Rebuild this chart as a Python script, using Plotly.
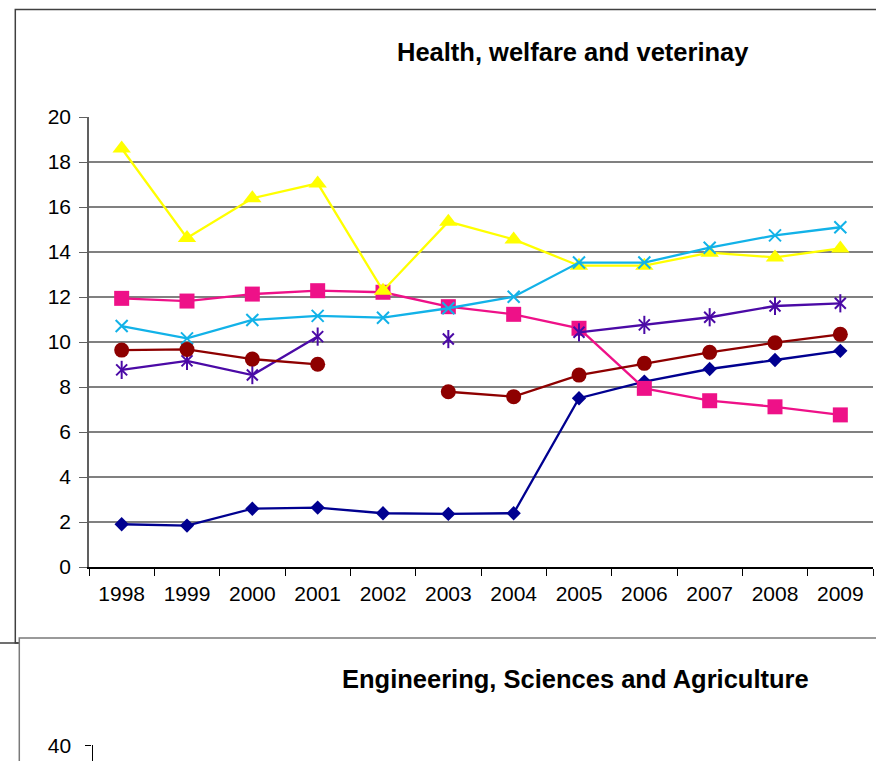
import plotly.graph_objects as go

W, H = 876, 761

years = ['1998', '1999', '2000', '2001', '2002', '2003', '2004', '2005', '2006', '2007', '2008', '2009']
navy_diamond = [1.90, 1.84, 2.59, 2.64, 2.39, 2.36, 2.39, 7.50, 8.24, 8.80, 9.20, 9.61]
pink_square = [11.94, 11.82, 12.13, 12.28, 12.21, 11.57, 11.23, 10.61, 7.94, 7.39, 7.12, 6.76]
yellow_triangle = [18.60, 14.62, 16.39, 17.05, 12.28, 15.35, 14.56, 13.39, 13.39, 13.97, 13.76, 14.16]
cyan_cross = [10.71, 10.16, 10.98, 11.16, 11.08, 11.50, 12.01, 13.53, 13.53, 14.19, 14.74, 15.10]
purple_star = [8.76, 9.16, 8.53, 10.24, None, 10.13, None, 10.43, 10.76, 11.10, 11.60, 11.72]
darkred_circle = [9.64, 9.67, 9.24, 9.01, None, 7.79, 7.57, 8.53, 9.05, 9.54, 9.97, 10.34]

y_ticks = list(range(0, 21, 2))
title_top = "Health, welfare and veterinay"
title_bottom = "Engineering, Sciences and Agriculture"
bottom_ticks = [40]

FONT = "Liberation Sans, Arial, sans-serif"
NAVY = "#000090"
PINK = "#EE1188"
YELLOW = "#FFFF00"
CYAN = "#12B2E8"
PURPLE = "#4B0AA6"
DARKRED = "#8E0000"


def px(x):
    return x / W


def py(y):
    return (H - y) / H


fig = go.Figure()
lw = 2.3

fig.add_trace(go.Scatter(x=years, y=navy_diamond, mode="lines+markers",
                         line=dict(color=NAVY, width=lw),
                         marker=dict(symbol="diamond", size=11, color=NAVY)))
fig.add_trace(go.Scatter(x=years, y=pink_square, mode="lines+markers",
                         line=dict(color=PINK, width=lw),
                         marker=dict(symbol="square", size=15, color=PINK)))
fig.add_trace(go.Scatter(x=years, y=yellow_triangle, mode="lines+markers",
                         line=dict(color=YELLOW, width=lw),
                         marker=dict(symbol="triangle-up", size=16, color=YELLOW)))
fig.add_trace(go.Scatter(x=years, y=cyan_cross, mode="lines+markers",
                         line=dict(color=CYAN, width=lw),
                         marker=dict(symbol="x-thin", size=12, color=CYAN,
                                     line=dict(color=CYAN, width=2))))
fig.add_trace(go.Scatter(x=years, y=purple_star, mode="lines+markers",
                         line=dict(color=PURPLE, width=lw),
                         marker=dict(symbol="x-thin", size=11, color=PURPLE,
                                     line=dict(color=PURPLE, width=2))))
fig.add_trace(go.Scatter(x=years, y=purple_star, mode="markers",
                         marker=dict(symbol="line-ns", size=13, color=PURPLE,
                                     line=dict(color=PURPLE, width=2))))
fig.add_trace(go.Scatter(x=years, y=darkred_circle, mode="lines+markers",
                         line=dict(color=DARKRED, width=lw),
                         marker=dict(symbol="circle", size=15, color=DARKRED)))
# second (cut-off) chart: only its axis is visible, no data shown
fig.add_trace(go.Scatter(x=[], y=[], mode="lines", xaxis="x2", yaxis="y2",
                         hoverinfo="skip"))

tickfont = dict(family=FONT, size=21, color="#000000")

fig.update_layout(
    width=W, height=H, autosize=False,
    margin=dict(l=0, r=0, t=0, b=0, pad=0, autoexpand=False),
    paper_bgcolor="white", plot_bgcolor="white",
    showlegend=False,
    xaxis=dict(domain=[px(89), px(873)], type="category", range=[-0.5, 11.5],
               showgrid=False, showline=True, linecolor="#000000", linewidth=1.5,
               ticks="outside", tickson="boundaries", ticklen=7, tickcolor="#000000",
               tickwidth=1.3, tickfont=tickfont, ticklabelstandoff=7,
               anchor="y", fixedrange=True, automargin=False),
    yaxis=dict(domain=[py(567), py(117)], range=[0, 20], tickvals=y_ticks,
               showgrid=True, gridcolor="#808080", gridwidth=1.5, zeroline=False,
               showline=True, linecolor="#606060", linewidth=1.5,
               ticks="outside", ticklen=8, tickcolor="#606060", tickwidth=1.3,
               tickfont=tickfont, ticklabelstandoff=4, anchor="x", automargin=False),
    xaxis2=dict(domain=[px(92.5), px(873)], range=[0, 1], anchor="y2",
                showgrid=False, zeroline=False, showline=False, showticklabels=False,
                ticks="", automargin=False),
    yaxis2=dict(domain=[0, py(745)], range=[38.6, 40.02], tickvals=bottom_ticks,
                showgrid=False, zeroline=False, showline=True, linecolor="#000000",
                linewidth=1.3, ticks="outside", ticklen=6, tickcolor="#000000",
                tickfont=tickfont, ticklabelstandoff=10, anchor="x2", automargin=False),
    shapes=[
        dict(type="rect", xref="paper", yref="paper", x0=px(15.3), x1=1.05,
             y0=py(643), y1=py(9.5), line=dict(color="#404040", width=1.5),
             fillcolor="rgba(0,0,0,0)", layer="below"),
        dict(type="line", xref="paper", yref="paper", x0=-0.02, x1=px(30),
             y0=py(643), y1=py(643), line=dict(color="#404040", width=1.5), layer="below"),
        dict(type="rect", xref="paper", yref="paper", x0=px(19.3), x1=1.05,
             y0=-0.1, y1=py(638), line=dict(color="#7a7a7a", width=1.5),
             fillcolor="white", layer="below"),
    ],
    annotations=[
        dict(text="<b>" + title_top + "</b>", xref="paper", yref="paper",
             x=px(572.5), y=py(52), xanchor="center", yanchor="middle",
             showarrow=False, font=dict(family=FONT, size=25.5, color="#000000")),
        dict(text="<b>" + title_bottom + "</b>", xref="paper", yref="paper",
             x=px(575), y=py(679), xanchor="center", yanchor="middle",
             showarrow=False, font=dict(family=FONT, size=25.5, color="#000000")),
    ],
)

post = ("document.documentElement.style.margin='0';"
        "document.documentElement.style.overflow='hidden';"
        "document.body.style.margin='0';document.body.style.padding='0';"
        "document.body.style.overflow='hidden';"
        "var gd=document.getElementById('{plot_id}');"
        "gd.style.position='fixed';gd.style.left='0px';gd.style.top='0px';")

fig.write_html("out.html", post_script=post,
               config={"displayModeBar": False, "responsive": False})
